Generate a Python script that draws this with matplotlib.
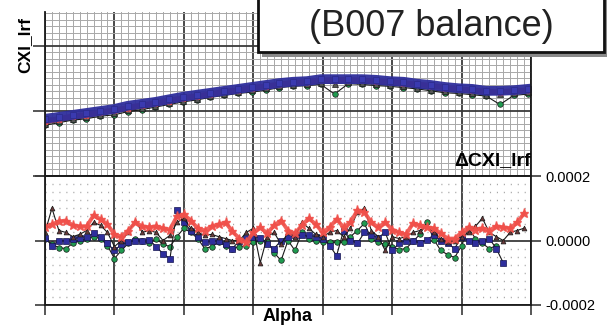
import numpy as np
import matplotlib
matplotlib.use("Agg")
from matplotlib import pyplot as plt
from matplotlib.patches import Rectangle
from matplotlib.ticker import MultipleLocator

plt.rcParams['font.family'] = ['Liberation Sans', 'DejaVu Sans']

# upper panel: CXI_lrf vs alpha (arbitrary units, no tick labels shown)
alpha_up = np.linspace(0, 6.95, 36)
cxi_blue = [0.88, 0.91, 0.94, 0.97, 1.00, 1.03, 1.08, 1.11, 1.14, 1.18, 1.22, 1.25,
            1.28, 1.31, 1.34, 1.37, 1.40, 1.43, 1.45, 1.46, 1.49, 1.49, 1.49, 1.49,
            1.48, 1.46, 1.45, 1.42, 1.40, 1.37, 1.35, 1.34, 1.31, 1.31, 1.32, 1.34]
cxi_red = [0.84, 0.88, 0.92, 0.94, 0.98, 1.01, 1.05, 1.09, 1.12, 1.16, 1.20, 1.23,
           1.26, 1.30, 1.32, 1.36, 1.38, 1.41, 1.44, 1.45, 1.47, 1.48, 1.48, 1.47,
           1.46, 1.45, 1.43, 1.41, 1.39, 1.36, 1.34, 1.32, 1.30, 1.29, 1.31, 1.32]
cxi_green = [0.78, 0.82, 0.86, 0.88, 0.92, 0.94, 0.99, 1.02, 1.06, 1.10, 1.14, 1.17,
             1.21, 1.24, 1.27, 1.29, 1.32, 1.36, 1.38, 1.39, 1.41, 1.26, 1.42, 1.41,
             1.39, 1.38, 1.36, 1.34, 1.31, 1.28, 1.27, 1.25, 1.23, 1.10, 1.24, 1.26]
cxi_black = [0.80, 0.84, 0.87, 0.90, 0.94, 0.97, 1.01, 1.04, 1.08, 1.12, 1.16, 1.19,
             1.23, 1.26, 1.29, 1.32, 1.35, 1.38, 1.40, 1.41, 1.43, 1.42, 1.44, 1.43,
             1.41, 1.40, 1.38, 1.36, 1.33, 1.30, 1.29, 1.27, 1.25, 1.26, 1.27, 1.29]

# lower panel: delta CXI_lrf (units of 1e-4)
alpha_lo = np.arange(70) * 0.1
d_red = [0.41, 0.50, 0.59, 0.62, 0.47, 0.44, 0.44, 0.78, 0.66, 0.50, 0.19, 0.12,
         0.31, 0.56, 0.44, 0.41, 0.44, 0.38, 0.34, 0.75, 0.81, 0.62, 0.38, 0.31,
         0.44, 0.50, 0.56, 0.28, 0.06, -0.06, 0.25, 0.41, 0.22, 0.47, 0.62, 0.31,
         0.22, 0.47, 0.69, 0.50, 0.25, 0.41, 0.66, 0.41, 0.56, 0.94, 0.88, 0.56,
         0.41, 0.56, 0.34, 0.25, 0.19, 0.53, 0.47, 0.41, 0.38, 0.22, 0.06, 0.06,
         0.25, 0.41, 0.34, 0.38, 0.31, 0.44, 0.41, 0.38, 0.56, 0.84]
d_blue = [0.09, -0.16, 0.00, 0.00, 0.06, 0.09, 0.12, 0.22, 0.12, -0.09, -0.31, -0.12,
          -0.06, 0.00, 0.00, 0.03, -0.19, -0.41, -0.56, 0.94, 0.56, 0.31, 0.12, -0.06,
          -0.03, 0.00, -0.12, -0.25, 0.00, 0.09, 0.12, 0.09, -0.12, -0.25, 0.00, 0.12,
          0.16, 0.16, 0.16, 0.12, 0.06, -0.16, -0.47, 0.31, 0.00, -0.09, 0.25, 0.16,
          0.09, 0.25, -0.31, -0.09, 0.00, 0.00, -0.09, 0.03, 0.16, 0.00, -0.09, -0.25,
          0.12, 0.00, -0.09, 0.00, 0.06, -0.25, -0.69]
d_green = [0.06, -0.12, -0.22, -0.25, -0.09, 0.00, 0.06, 0.12, 0.06, -0.16, -0.56, -0.31,
           -0.09, 0.06, 0.00, -0.09, 0.06, -0.12, -0.19, 0.12, 0.38, 0.25, 0.06, -0.25,
           -0.19, -0.06, -0.16, -0.25, -0.19, -0.16, -0.06, 0.00, 0.00, -0.38, -0.62, 0.00,
           -0.31, 0.25, 0.06, -0.03, -0.06, -0.06, -0.06, -0.06, 0.12, 0.31, 0.53, 0.06,
           -0.06, -0.12, -0.19, -0.28, -0.25, -0.03, 0.19, 0.56, 0.03, -0.31, -0.44, -0.53,
           -0.16, 0.38, 0.06, -0.09, -0.25, -0.16]
d_black = [0.25, 1.00, 0.31, 0.25, 0.12, 0.19, 0.31, 0.56, 0.47, 0.25, -0.19, 0.00,
           0.25, 0.62, 0.25, 0.31, 0.25, 0.00, 0.16, 0.56, 0.69, 0.38, 0.25, 0.16,
           0.19, 0.12, 0.06, 0.00, 0.00, 0.25, 0.38, -0.69, 0.12, 0.25, -0.12, 0.25,
           0.12, 0.56, 0.38, 0.19, 0.12, 0.25, 0.31, 0.12, 0.38, 0.88, 1.00, 0.31,
           0.12, -0.31, 0.12, 0.06, 0.12, 0.25, 0.31, 0.44, 0.25, 0.06, -0.06, 0.00,
           0.12, 0.25, 0.44, 0.69, 0.25, 0.12, 0.00, 0.25, 0.31, 0.38]

RED = '#f0504a'
BLUE = '#2e2e9c'
GREEN = '#1f9a4f'
DARK = '#1a1a1a'
GRID_MAJ = '#3a3a3a'
GRID_MIN = '#a8a8a8'

fig = plt.figure(figsize=(6.07, 3.26), dpi=100)
ax1 = fig.add_axes([45/607, 1 - 176/326, 486/607, 164/326])
ax2 = fig.add_axes([45/607, 1 - 305/326, 486/607, 129/326])

# ---- upper panel
ax1.set_xlim(0, 7)
ax1.set_ylim(0, 2.523)
ax1.xaxis.set_major_locator(MultipleLocator(1))
ax1.xaxis.set_minor_locator(MultipleLocator(0.1))
ax1.yaxis.set_major_locator(MultipleLocator(1))
ax1.yaxis.set_minor_locator(MultipleLocator(0.1))
ax1.grid(which='minor', color=GRID_MIN, lw=0.7)
ax1.grid(which='major', color=GRID_MAJ, lw=1.3)
ax1.set_axisbelow(True)
ax1.tick_params(which='both', labelbottom=False, labelleft=False, bottom=False)
ax1.tick_params(which='minor', left=False)
ax1.tick_params(which='major', left=True, direction='out', length=9, width=1.2, color=GRID_MAJ)
ax1.spines['top'].set_visible(False)
for s in ('left', 'right', 'bottom'):
    ax1.spines[s].set_color(DARK)
    ax1.spines[s].set_linewidth(1.3)

ax1.plot(alpha_up, cxi_green, '-o', color=DARK, lw=0.8, ms=4, mfc=GREEN, mec=DARK, mew=0.5)
ax1.plot(alpha_up, cxi_black, '-^', color=DARK, lw=0.8, ms=4, mfc='#555555', mec=DARK, mew=0.5)
ax1.plot(alpha_up, cxi_red, '-*', color=RED, lw=4, ms=6, mfc=RED, mec=RED)
ax1.plot(alpha_up, cxi_blue, '-', color=BLUE, lw=7, alpha=0.95)
ax1.plot(alpha_up, cxi_blue, 's', ms=4.5, mfc='#3a3ab0', mec='#2a2a8a', mew=0.5)
ax1.text(-0.041, 0.80, 'CXl_lrf', transform=ax1.transAxes, rotation=90,
         fontsize=12.5, fontweight='bold', ha='center', va='center')
ax1.text(1.0, 0.04, '\u0394CXl_lrf', transform=ax1.transAxes,
         fontsize=14, fontweight='bold', ha='right', va='bottom')

# ---- lower panel
ax2.set_xlim(0, 7)
ax2.set_ylim(-0.0002, 0.0002)
ax2.xaxis.set_major_locator(MultipleLocator(1))
ax2.yaxis.set_major_locator(MultipleLocator(0.0002))
ax2.yaxis.set_minor_locator(MultipleLocator(0.000025))
ax2.grid(which='minor', axis='y', color=GRID_MIN, lw=1.0, linestyle=(0, (0.8, 4.2)))
ax2.grid(which='major', color=GRID_MAJ, lw=1.3)
ax2.set_axisbelow(True)
ax2.yaxis.tick_right()
ax2.tick_params(which='minor', left=False, right=False)
ax2.tick_params(which='major', direction='out', length=7, width=1.2, color=GRID_MAJ,
                labelbottom=False, left=True, right=True, labelleft=False,
                labelright=True, labelsize=10.5, pad=3)
ax2.set_yticks([-0.0002, 0.0, 0.0002])
ax2.set_yticklabels(['-0.0002', '0.0000', '0.0002'])
for s in ax2.spines.values():
    s.set_color(DARK)
    s.set_linewidth(1.3)

a = np.array(alpha_lo)
ax2.plot(a[:len(d_green)], np.array(d_green) * 1e-4, '-o', color=DARK, lw=0.8, ms=4,
         mfc=GREEN, mec=DARK, mew=0.5)
ax2.plot(a[:len(d_blue)], np.array(d_blue) * 1e-4, '-s', color=DARK, lw=0.8, ms=4,
         mfc=BLUE, mec='#151550', mew=0.5)
ax2.plot(a[:len(d_black)], np.array(d_black) * 1e-4, '-^', color=DARK, lw=0.8, ms=3.5,
         mfc='#6a3a3a', mec=DARK, mew=0.5)
ax2.plot(a[:len(d_red)], np.array(d_red) * 1e-4, '-*', color=RED, lw=2.8, ms=6.5,
         mfc=RED, mec=RED, alpha=0.9)
ax2.set_xlabel('Alpha', fontsize=13, fontweight='bold')
ax2.xaxis.set_label_coords(0.5, -0.025)
ax2.xaxis.label.set_va('top')

# ---- annotation box
fig.patches.append(Rectangle((262/607, 1 - 57/326), 360/607, 70/326, transform=fig.transFigure,
                             facecolor='#8a8a8a', edgecolor='none', zorder=5))
fig.patches.append(Rectangle((258/607, 1 - 52/326), 346/607, 70/326, transform=fig.transFigure,
                             facecolor='white', edgecolor='#111111', lw=2, zorder=6))
fig.text(431/607, 1 - 27/326, '(B007 balance)', fontsize=26, ha='center', va='center',
         color='#222222', zorder=7)

fig.savefig('out.png', dpi=100)
